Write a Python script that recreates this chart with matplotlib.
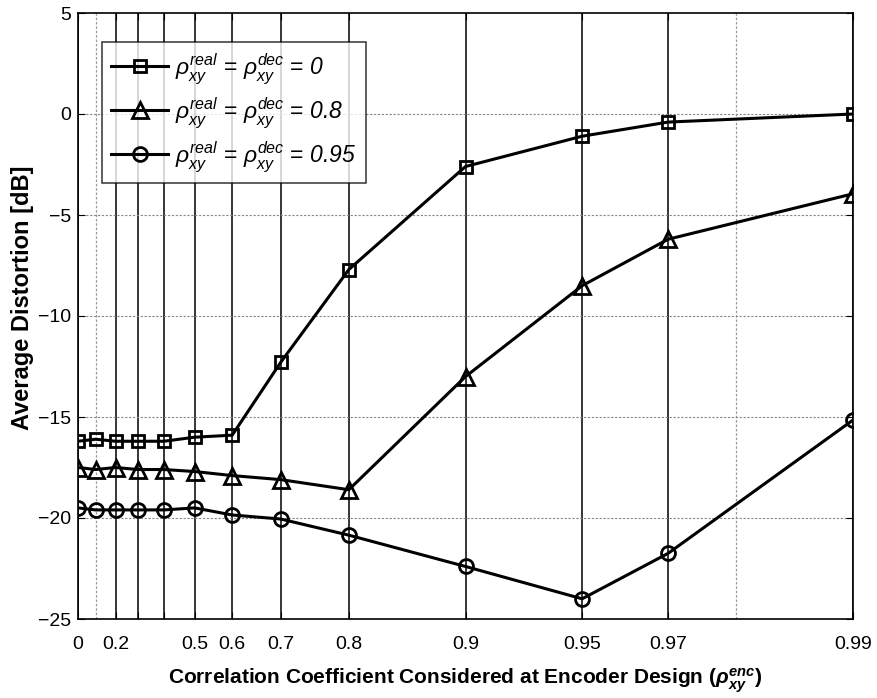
import numpy as np
import matplotlib
matplotlib.use("Agg")
import matplotlib.pyplot as plt

plt.rcParams['font.family'] = ['Liberation Sans', 'DejaVu Sans']
plt.rcParams['mathtext.fontset'] = 'custom'
plt.rcParams['mathtext.rm'] = 'Liberation Sans:italic'
plt.rcParams['mathtext.it'] = 'Liberation Sans:italic'
plt.rcParams['mathtext.bf'] = 'Liberation Sans:bold:italic'

# datos
rho_enc = [0, 0.1, 0.2, 0.3, 0.4, 0.5, 0.6, 0.7, 0.8, 0.9, 0.95, 0.97, 0.99]
dist_0 = [-16.2, -16.1, -16.2, -16.2, -16.2, -16.0, -15.9, -12.3, -7.7, -2.6, -1.1, -0.4, 0.0]
dist_08 = [-17.5, -17.6, -17.5, -17.6, -17.6, -17.7, -17.9, -18.1, -18.6, -13.0, -8.5, -6.2, -3.95]
dist_095 = [-19.5, -19.6, -19.6, -19.6, -19.6, -19.5, -19.85, -20.05, -20.85, -22.4, -24.0, -21.75, -15.15]

xtick_pos = [0, 0.2, 0.3, 0.4, 0.5, 0.6, 0.7, 0.8, 0.9, 0.95, 0.97, 0.99]
xtick_lab = ['0', '0.2', '', '', '0.5', '0.6', '0.7', '0.8', '0.9', '0.95', '0.97', '0.99']
grid_punteada = [0.1, 0.98]
yticks = [5, 0, -5, -10, -15, -20, -25]

etiquetas = [r'$\rho_{xy}^{real}$ = $\rho_{xy}^{dec}$ = $0$',
             r'$\rho_{xy}^{real}$ = $\rho_{xy}^{dec}$ = $0.8$',
             r'$\rho_{xy}^{real}$ = $\rho_{xy}^{dec}$ = $0.95$']


def fwd(x):
    return -np.log10(np.clip(1 - np.asarray(x, dtype=float), 1e-6, None))


def inv(t):
    return 1 - 10 ** (-np.asarray(t, dtype=float))


fig = plt.figure(figsize=(8.77, 6.98), dpi=100)
ax = fig.add_axes([78/877, 1 - 619/698, (853-78)/877, (619-13)/698])
ax.set_xscale('function', functions=(fwd, inv))

# lineas verticales de la grilla
for xv in xtick_pos:
    ax.axvline(xv, color='black', lw=1.1, zorder=1)
for xv in grid_punteada:
    ax.axvline(xv, color='#999999', lw=0.9, ls=(0, (2, 1.5)), zorder=1)
for yv in yticks[1:-1]:
    ax.axhline(yv, color='#888888', lw=0.8, ls=(0, (2, 1.5)), zorder=1)

ax.plot(rho_enc, dist_0, color='black', lw=2.2, marker='s', ms=8, mfc='none', mew=2, label=etiquetas[0], zorder=3)
ax.plot(rho_enc, dist_08, color='black', lw=2.2, marker='^', ms=12, mfc='none', mew=2, label=etiquetas[1], zorder=3)
ax.plot(rho_enc, dist_095, color='black', lw=2.2, marker='o', ms=10, mfc='none', mew=2, label=etiquetas[2], zorder=3)

ax.set_xlim(0, 0.99)
ax.set_ylim(-25, 5)
ax.set_xticks(xtick_pos)
ax.set_xticklabels(xtick_lab)
ax.xaxis.set_minor_locator(matplotlib.ticker.NullLocator())
ax.set_yticks(yticks)
ax.tick_params(direction='in', top=True, right=True, labelsize=14, length=5, width=0.8)
ax.tick_params(axis='x', pad=12)
ax.tick_params(axis='y', pad=5)

for s in ax.spines.values():
    s.set_linewidth(1.2)

ax.set_xlabel(r'Correlation Coefficient Considered at Encoder Design ($\mathbf{\rho_{xy}^{enc}}$)',
              fontsize=15, fontweight='bold', labelpad=10)
ax.set_ylabel('Average Distortion [dB]', fontsize=17, fontweight='bold')
ax.yaxis.set_label_coords(-0.057, 0.53)

leg = ax.legend(loc='upper left', bbox_to_anchor=(0.031, 0.952), fontsize=16.5, frameon=True,
                fancybox=False, edgecolor='black', handlelength=2.5, borderpad=0.4,
                labelspacing=0.4, handletextpad=0.3, borderaxespad=0)
leg.get_frame().set_linewidth(1.1)
leg.set_zorder(5)

fig.savefig('out.png', dpi=100)
